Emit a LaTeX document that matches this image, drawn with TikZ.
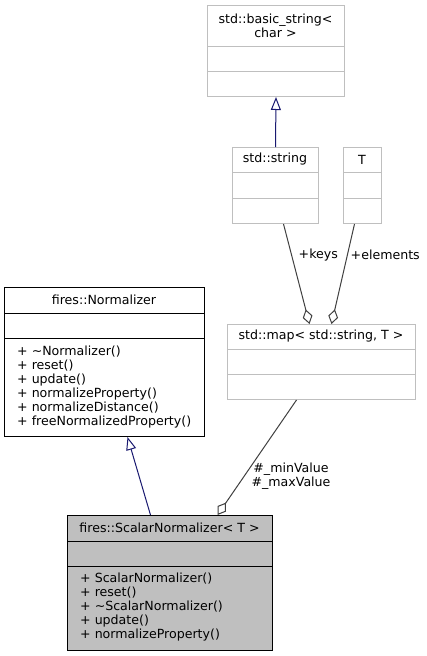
\documentclass[tikz,border=0pt]{standalone}
\usepackage{fontspec}
\setmainfont{DejaVu Sans}
\usetikzlibrary{arrows.meta}
\definecolor{boxgray}{HTML}{BFBFBF}
\definecolor{edgegray}{HTML}{404040}
\definecolor{inhblue}{HTML}{191970}
\newcommand{\umlfont}{\fontsize{12.6}{14}\selectfont}
\tikzset{
  classbox/.style={draw, line width=1pt, inner sep=0pt, anchor=north west},
  stdbox/.style={classbox, draw=boxgray},
  title/.style={inner sep=0pt, align=center, font=\umlfont},
  members/.style={inner sep=0pt, align=left, anchor=north west, font=\umlfont},
  elabel/.style={inner sep=0pt, font=\umlfont},
  inherit/.style={draw=inhblue, line width=1pt, -{Triangle[open, length=13pt, width=10pt]}},
  aggreg/.style={draw=edgegray, line width=1pt, -{Diamond[open, length=15pt, width=10pt]}},
}
\begin{document}
\begin{tikzpicture}[x=1pt,y=-1pt]
\fill[white] (0,0) rectangle (427,656);
\useasboundingbox (0,0) rectangle (427,656);
%
% std::basic_string< char >
\node[stdbox, minimum width=137pt, minimum height=91pt] (bstr) at (207,5) {};
\node[title] (bstrname) at (275.5,26) {std::basic\_string<\\char >};
\draw[boxgray, line width=1pt] (207,46)--(344,46) (207,71)--(344,71);
% std::string
\node[stdbox, minimum width=86pt, minimum height=76pt] (sstr) at (232,147) {};
\node[title] (sstrname) at (275,159.5) {std::string};
\draw[boxgray, line width=1pt] (232,172)--(318,172) (232,198)--(318,198);
% T
\node[stdbox, minimum width=38pt, minimum height=76pt] (tcls) at (343,147) {};
\node[title] (tclsname) at (362,159.5) {T};
\draw[boxgray, line width=1pt] (343,172)--(381,172) (343,198)--(381,198);
% std::map< std::string, T >
\node[stdbox, minimum width=188pt, minimum height=75pt] (map) at (227,324) {};
\node[title] (mapname) at (321,336.5) {std::map< std::string, T >};
\draw[boxgray, line width=1pt] (227,349)--(415,349) (227,374)--(415,374);
% fires::Normalizer
\node[classbox, minimum width=200pt, minimum height=149pt] (norm) at (4,287) {};
\node[title] (normname) at (104,300) {fires::Normalizer};
\draw[line width=1pt] (4,313)--(204,313) (4,338)--(204,338);
\node[members] (normops) at (17,345.5) {+ \textasciitilde Normalizer()\\+ reset()\\+ update()\\+ normalizeProperty()\\+ normalizeDistance()\\+ freeNormalizedProperty()};
% fires::ScalarNormalizer< T >
\node[classbox, fill=boxgray, minimum width=205pt, minimum height=135pt] (scal) at (67,515) {};
\node[title] (scalname) at (169.5,528) {fires::ScalarNormalizer< T >};
\draw[line width=1pt] (67,541)--(272,541) (67,566)--(272,566);
\node[members] (scalops) at (80,572.5) {+ ScalarNormalizer()\\+ reset()\\+ \textasciitilde ScalarNormalizer()\\+ update()\\+ normalizeProperty()};
%
% connectors
\draw[inherit] (sstr.north) -- (bstr.south);
\draw[inherit] ([xshift=-19.5pt]scal.north) -- ([xshift=23pt]norm.south);
\draw[aggreg] ([xshift=8pt]sstr.south) -- ([xshift=-12pt]map.north);
\draw[aggreg] ([xshift=-8pt]tcls.south) -- ([xshift=10pt]map.north);
\draw[aggreg] ([xshift=-25pt]map.south) -- ([xshift=47.5pt]scal.north);
\node[elabel, anchor=west] (keys) at (298.5,255) {+keys};
\node[elabel, anchor=west] (elems) at (350.5,255) {+elements};
\node[elabel, align=center] (minmax) at (291,476) {\#\_minValue\\\#\_maxValue};
\end{tikzpicture}
\end{document}
